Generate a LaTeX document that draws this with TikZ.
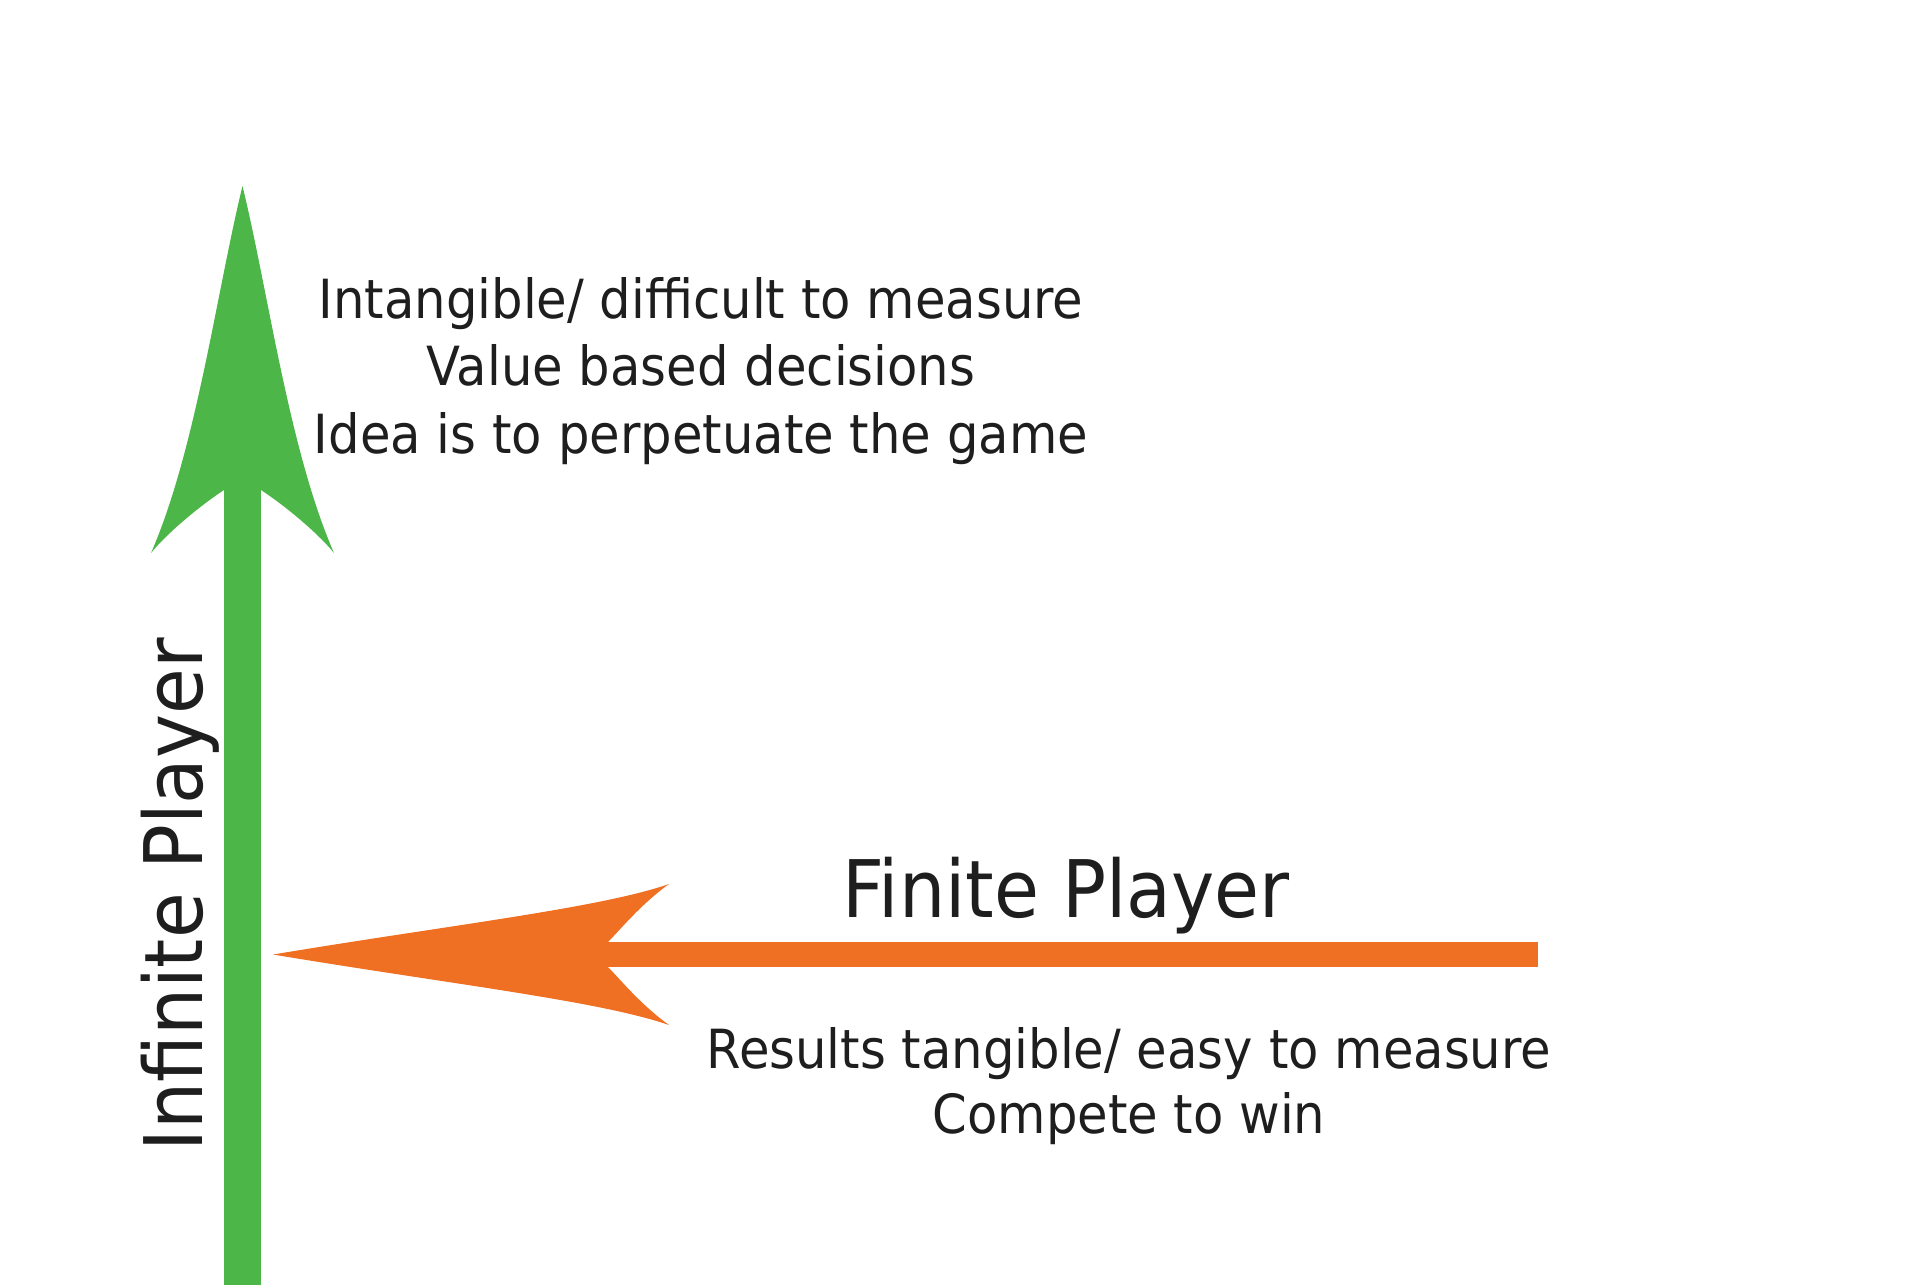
\documentclass[tikz,border=0pt]{standalone}
\usepackage{fontspec}
\setmainfont[FakeStretch=0.92]{DejaVu Sans}
\definecolor{infgreen}{RGB}{76,183,72}
\definecolor{finorange}{RGB}{240,112,35}
\definecolor{txtgray}{RGB}{30,30,30}
\tikzset{
  note/.style={font=\fontsize{15.36}{19}\selectfont,text=txtgray,anchor=base,inner sep=0pt},
  title/.style={font=\fontsize{22.6}{27}\selectfont,text=txtgray,anchor=base,inner sep=0pt}
}
\begin{document}
\begin{tikzpicture}[x=0.1mm,y=-0.1mm]
\useasboundingbox (0,0) rectangle (1920,1285);
% infinite player arrow
\fill[infgreen] (224,485) rectangle (261,1285);
\fill[infgreen] (242.5,186) .. controls (268,290) and (289,450) .. (334,553)
  .. controls (318,533) and (284,505) .. (261,490) -- (224,490)
  .. controls (201,505) and (167,533) .. (151,553)
  .. controls (196,450) and (217,290) .. (242.5,186) -- cycle;
% finite player arrow
\fill[finorange] (600,942) rectangle (1538,967);
\fill[finorange] (273,954.5) .. controls (450,925) and (600,908) .. (669,884)
  .. controls (640,905) and (620,930) .. (608,942) -- (608,967)
  .. controls (620,979) and (640,1004) .. (669,1025)
  .. controls (600,1001) and (450,984) .. (273,954.5) -- cycle;

\node[note] (inf1) at (701,318) {Intangible/ difficult to measure};
\node[note] (inf2) at (701,385.5) {Value based decisions};
\node[note] (inf3) at (701,453) {Idea is to perpetuate the game};
\node[title,rotate=90,font=\fontsize{23}{27}\selectfont] (inf) at (202,895) {Infinite Player};

\node[title] (fin) at (1066,917) {Finite Player};
\node[note] (fin1) at (1129,1068) {Results tangible/ easy to measure};
\node[note] (fin2) at (1129,1133) {Compete to win};
\end{tikzpicture}
\end{document}
